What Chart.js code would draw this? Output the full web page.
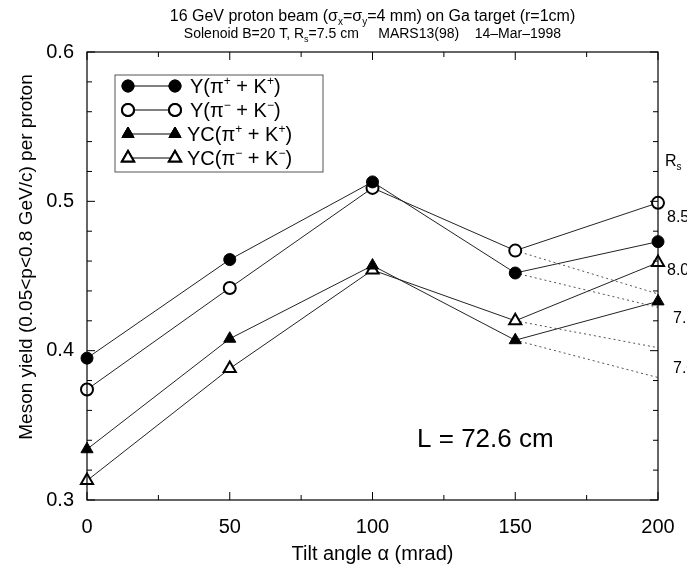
<!DOCTYPE html>
<html>
<head>
<meta charset="utf-8">
<script src="https://cdn.jsdelivr.net/npm/chart.js@4.4.1/dist/chart.umd.min.js"></script>
<style>
  html, body { margin: 0; padding: 0; background: #fff; }
  #wrap { width: 687px; height: 578px; }
</style>
</head>
<body>
<div id="wrap"><canvas id="chart" width="687" height="578"></canvas></div>
<script>
// tilt angles (mrad)
const angles = [0, 50, 100, 150, 200];
// meson yields
const yPlus = [0.395, 0.461, 0.513, 0.452, 0.473];
const yMinus = [0.374, 0.442, 0.509, 0.467, 0.499];
const ycPlus = [0.334, 0.408, 0.457, 0.407, 0.433];
const ycMinus = [0.313, 0.388, 0.454, 0.420, 0.459];

// dotted branches from 150 to 200 mrad
const extAngles = [150, 200];
const extYMinus = [0.467, 0.438];
const extYPlus = [0.452, 0.429];
const extYcMinus = [0.420, 0.402];
const extYcPlus = [0.407, 0.382];

const yTicks = [0.3, 0.4, 0.5, 0.6];
const xTicks = [0, 50, 100, 150, 200];
const rsLabels = ['8.5', '8.0', '7.5', '7.0'];
const rsLabelY = [0.490, 0.455, 0.4225, 0.389];

const FONT = '"Liberation Sans", Arial, Helvetica, sans-serif';

function pts(xs, ys) {
    return xs.map((x, i) => ({ x: x, y: ys[i] }));
}

function mainSet(label, ys, style, filled, radius) {
    return {
        label: label,
        data: pts(angles, ys),
        borderColor: '#222',
        borderWidth: 1,
        backgroundColor: filled ? '#000' : '#fff',
        pointStyle: style,
        pointRadius: radius,
        pointBorderColor: '#000',
        pointBorderWidth: filled ? 1 : 2,
        pointBackgroundColor: filled ? '#000' : '#fff',
        fill: false,
        tension: 0,
        order: 1
    };
}

function extSet(ys) {
    return {
        label: 'ext',
        data: pts(extAngles, ys),
        borderColor: '#555',
        borderWidth: 1,
        borderDash: [2, 3],
        pointRadius: 0,
        fill: false,
        order: 2
    };
}

// text with sub/superscripts
function drawRich(ctx, parts, x, y, size, align) {
    const small = Math.round(size * 0.62);
    let total = 0;
    parts.forEach(p => {
        const s = typeof p === 'string' ? [p, ''] : p;
        ctx.font = (s[1] ? small : size) + 'px ' + FONT;
        total += ctx.measureText(s[0]).width;
    });
    let cx = align === 'center' ? x - total / 2 : x;
    ctx.textAlign = 'left';
    ctx.textBaseline = 'alphabetic';
    parts.forEach(p => {
        const s = typeof p === 'string' ? [p, ''] : p;
        let dy = 0;
        if (s[1] === 'sup') dy = -size * 0.42;
        if (s[1] === 'sub') dy = size * 0.25;
        ctx.font = (s[1] ? small : size) + 'px ' + FONT;
        ctx.fillText(s[0], cx, y + dy);
        cx += ctx.measureText(s[0]).width;
    });
}

const legendRows = [
    { idx: 0, parts: ['Y(\u03c0', ['+', 'sup'], ' + K', ['+', 'sup'], ')'] },
    { idx: 1, parts: ['Y(\u03c0', ['\u2212', 'sup'], ' + K', ['\u2212', 'sup'], ')'] },
    { idx: 2, parts: ['YC(\u03c0', ['+', 'sup'], ' + K', ['+', 'sup'], ')'] },
    { idx: 3, parts: ['YC(\u03c0', ['\u2212', 'sup'], ' + K', ['\u2212', 'sup'], ')'] }
];

function drawMarker(ctx, ds, x, y) {
    ctx.save();
    ctx.lineWidth = ds.pointBorderWidth;
    ctx.strokeStyle = '#000';
    ctx.fillStyle = ds.pointBackgroundColor;
    Chart.helpers.drawPoint(ctx, { pointStyle: ds.pointStyle, radius: ds.pointRadius, borderWidth: ds.pointBorderWidth, rotation: 0 }, x, y);
    ctx.fill();
    ctx.stroke();
    ctx.restore();
}

const decorations = {
    id: 'decorations',
    afterDraw(chart) {
        const ctx = chart.ctx;
        const a = chart.chartArea;
        const xs = chart.scales.x;
        const ys = chart.scales.y;
        ctx.save();

        // frame
        ctx.strokeStyle = '#000';
        ctx.lineWidth = 1.2;
        ctx.strokeRect(a.left, a.top, a.right - a.left, a.bottom - a.top);

        // inward ticks
        ctx.lineWidth = 1;
        for (let v = 0.3; v <= 0.6001; v += 0.02) {
            const py = ys.getPixelForValue(v);
            const major = Math.abs(v * 10 - Math.round(v * 10)) < 0.001;
            const len = major ? 8 : 5;
            ctx.beginPath();
            ctx.moveTo(a.left, py); ctx.lineTo(a.left + len, py);
            ctx.moveTo(a.right, py); ctx.lineTo(a.right - len, py);
            ctx.stroke();
        }
        for (let v = 0; v <= 200; v += 25) {
            const px = xs.getPixelForValue(v);
            const len = v % 50 === 0 ? 8 : 5;
            ctx.beginPath();
            ctx.moveTo(px, a.bottom); ctx.lineTo(px, a.bottom - len);
            ctx.moveTo(px, a.top); ctx.lineTo(px, a.top + len);
            ctx.stroke();
        }

        // titles
        ctx.fillStyle = '#000';
        const cx = (a.left + a.right) / 2;
        drawRich(ctx, ['16 GeV proton beam (\u03c3', ['x', 'sub'], '=\u03c3', ['y', 'sub'], '=4 mm) on Ga target (r=1cm)'], cx, 21, 16, 'center');
        drawRich(ctx, ['Solenoid B=20 T, R', ['s', 'sub'], '=7.5 cm     MARS13(98)    14\u2013Mar\u20131998'], cx, 38, 14, 'center');

        // y axis title
        ctx.save();
        ctx.translate(32, 257);
        ctx.rotate(-Math.PI / 2);
        drawRich(ctx, ['Meson yield (0.05<p<0.8 GeV/c) per proton'], 0, 0, 19, 'center');
        ctx.restore();

        // legend
        const lx = 115, ly = 75, lw = 208, lh = 97;
        ctx.fillStyle = '#fff';
        ctx.fillRect(lx, ly, lw, lh);
        ctx.strokeStyle = '#555';
        ctx.lineWidth = 1;
        ctx.strokeRect(lx, ly, lw, lh);
        legendRows.forEach((row, i) => {
            const ds = chart.data.datasets[row.idx];
            const ry = ly + 11 + i * 24;
            ctx.strokeStyle = '#000';
            ctx.lineWidth = 1;
            ctx.beginPath();
            ctx.moveTo(lx + 13, ry); ctx.lineTo(lx + 60, ry);
            ctx.stroke();
            drawMarker(ctx, ds, lx + 13, ry);
            drawMarker(ctx, ds, lx + 60, ry);
            ctx.fillStyle = '#000';
            drawRich(ctx, row.parts, lx + (i < 2 ? 75 : 72), ry + 7, 20, 'left');
        });

        // right axis labels (cut by the edge)
        ctx.fillStyle = '#000';
        drawRich(ctx, ['R', ['s', 'sub']], a.right + 7, ys.getPixelForValue(0.528) + 6, 16, 'left');
        rsLabels.forEach((t, i) => {
            drawRich(ctx, [t], a.right + (i < 2 ? 9 : 15), ys.getPixelForValue(rsLabelY[i]) + 6, 16, 'left');
        });

        // annotation
        drawRich(ctx, ['L = 72.6 cm'], xs.getPixelForValue(115.6), ys.getPixelForValue(0.3415) + 9, 26, 'left');
        ctx.restore();
    }
};

new Chart(document.getElementById('chart'), {
    type: 'line',
    data: {
        datasets: [
            mainSet('Y(pi+ + K+)', yPlus, 'circle', true, 6),
            mainSet('Y(pi- + K-)', yMinus, 'circle', false, 6),
            mainSet('YC(pi+ + K+)', ycPlus, 'triangle', true, 7),
            mainSet('YC(pi- + K-)', ycMinus, 'triangle', false, 7),
            extSet(extYMinus),
            extSet(extYPlus),
            extSet(extYcMinus),
            extSet(extYcPlus)
        ]
    },
    plugins: [decorations],
    options: {
        responsive: false,
        animation: false,
        clip: false,
        layout: { padding: { left: 0, top: 52, right: 29, bottom: 0 } },
        plugins: {
            legend: { display: false },
            title: { display: false },
            tooltip: { enabled: false }
        },
        scales: {
            x: {
                type: 'linear',
                min: 0,
                max: 200,
                afterFit: s => { s.height = 78; },
                afterBuildTicks: s => { s.ticks = xTicks.map(v => ({ value: v })); },
                grid: { display: false },
                border: { display: false },
                ticks: { color: '#000', padding: 7, maxRotation: 0, font: { family: FONT, size: 20 } },
                title: {
                    display: true,
                    text: 'Tilt angle \u03b1 (mrad)',
                    color: '#000',
                    padding: { top: 0, bottom: 12 },
                    font: { family: FONT, size: 20 }
                }
            },
            y: {
                type: 'linear',
                min: 0.3,
                max: 0.6,
                afterFit: s => { s.width = 87; },
                afterBuildTicks: s => { s.ticks = yTicks.map(v => ({ value: v })); },
                grid: { display: false },
                border: { display: false },
                ticks: {
                    color: '#000',
                    padding: 5,
                    font: { family: FONT, size: 20 },
                    callback: v => v.toFixed(1)
                },
                title: { display: false }
            }
        }
    }
});
</script>
</body>
</html>
